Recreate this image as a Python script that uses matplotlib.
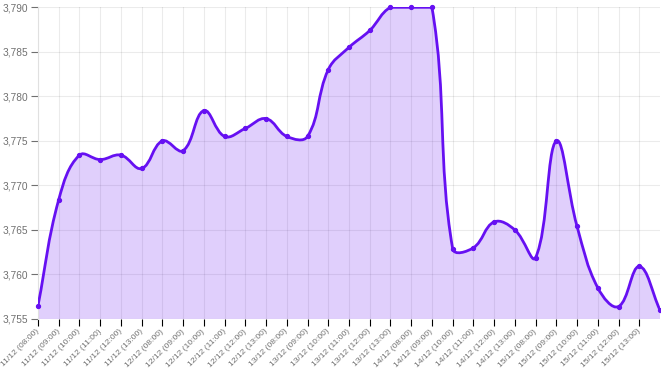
import matplotlib
matplotlib.use("Agg")
import matplotlib.pyplot as plt
import matplotlib.transforms as mtransforms
import numpy as np
from matplotlib.path import Path
from matplotlib.patches import PathPatch
from matplotlib.ticker import FuncFormatter

plt.rcParams['font.family'] = ['Liberation Sans', 'DejaVu Sans']

days = ["11/12", "12/12", "13/12", "14/12", "15/12"]
hours = ["08:00", "09:00", "10:00", "11:00", "12:00", "13:00"]
labels = [f"{d} ({h})" for d in days for h in hours]

values = [3.7565, 3.7684, 3.7734, 3.7729, 3.7734, 3.7719,
          3.7750, 3.7739, 3.7784, 3.7755, 3.7764, 3.7775,
          3.7755, 3.7755, 3.7830, 3.7855, 3.7874, 3.7900,
          3.7900, 3.7900, 3.7629, 3.7630, 3.7659, 3.7650,
          3.7619, 3.7750, 3.7654, 3.7585, 3.7564, 3.7609,
          3.7560]

line_color = "#6610f2"
W, H = 661, 376
fig = plt.figure(figsize=(W / 100, H / 100), dpi=100)
left, right, top, bottom = 38, 660, 7.3, 319
ax = fig.add_axes([left / W, (H - bottom) / H, (right - left) / W, (bottom - top) / H])
ax.set_xlim(0, len(values) - 1)
ax.set_ylim(3.755, 3.790)

# ticks / grid
ax.set_xticks(range(len(labels)))
ax.set_xticklabels(labels, rotation=45, ha="right", va="center",
                   rotation_mode="anchor", fontsize=6.1, color="#707070")
offset = mtransforms.ScaledTranslation(10 / 100, -1 / 100, fig.dpi_scale_trans)
for lab in ax.get_xticklabels():
    lab.set_transform(lab.get_transform() + offset)
ax.set_yticks(np.arange(3.755, 3.7901, 0.005))
ax.yaxis.set_major_formatter(FuncFormatter(lambda v, p: f"{v:.3f}".replace(".", ",")))
ax.tick_params(axis="y", labelsize=7.3, colors="#707070", length=5, width=0.8, pad=2)
ax.tick_params(axis="x", length=5, width=0.8, pad=3)
for tk in ax.xaxis.get_major_ticks() + ax.yaxis.get_major_ticks():
    tk.tick1line.set_color("#e6e6e6")
ax.grid(True, color="#000000", alpha=0.08, linewidth=0.8)
ax.set_axisbelow(True)
for s in ["top", "right", "bottom"]:
    ax.spines[s].set_visible(False)
ax.spines["left"].set_color("#e0e0e0")
ax.spines["left"].set_linewidth(0.8)

# chart.js style spline (tension 0.4) computed in pixel space
fig.canvas.draw()
tr = ax.transData
pts = tr.transform(np.column_stack([np.arange(len(values)), values]))
bb = ax.get_window_extent()
t = 0.4
n = len(pts)
cp_prev = pts.copy()
cp_next = pts.copy()
for i in range(n):
    p0 = pts[i - 1] if i > 0 else pts[i]
    p1 = pts[i]
    p2 = pts[i + 1] if i < n - 1 else pts[i]
    d01 = np.hypot(*(p1 - p0))
    d12 = np.hypot(*(p2 - p1))
    tot = d01 + d12
    s01 = d01 / tot if tot else 0
    s12 = d12 / tot if tot else 0
    cp_prev[i] = p1 - t * s01 * (p2 - p0)
    cp_next[i] = p1 + t * s12 * (p2 - p0)
for arr in (cp_prev, cp_next):
    arr[:, 0] = np.clip(arr[:, 0], bb.x0, bb.x1)
    arr[:, 1] = np.clip(arr[:, 1], bb.y0, bb.y1)

verts = [pts[0]]
codes = [Path.MOVETO]
for i in range(n - 1):
    verts += [cp_next[i], cp_prev[i + 1], pts[i + 1]]
    codes += [Path.CURVE4] * 3
inv = tr.inverted()
verts_d = inv.transform(np.array(verts))

line_path = Path(verts_d, codes)
fill_verts = list(verts_d) + [(n - 1, 3.755), (0, 3.755), verts_d[0]]
fill_codes = codes + [Path.LINETO, Path.LINETO, Path.CLOSEPOLY]
ax.add_patch(PathPatch(Path(fill_verts, fill_codes), facecolor=line_color,
                       alpha=0.2, edgecolor="none", zorder=2))
ax.add_patch(PathPatch(line_path, facecolor="none", edgecolor=line_color,
                       linewidth=2.0, zorder=3, capstyle="round", joinstyle="round"))
ax.plot(range(n), values, "o", color=line_color, markersize=2.8, zorder=4, clip_on=False)

fig.savefig("out.png", dpi=100)
